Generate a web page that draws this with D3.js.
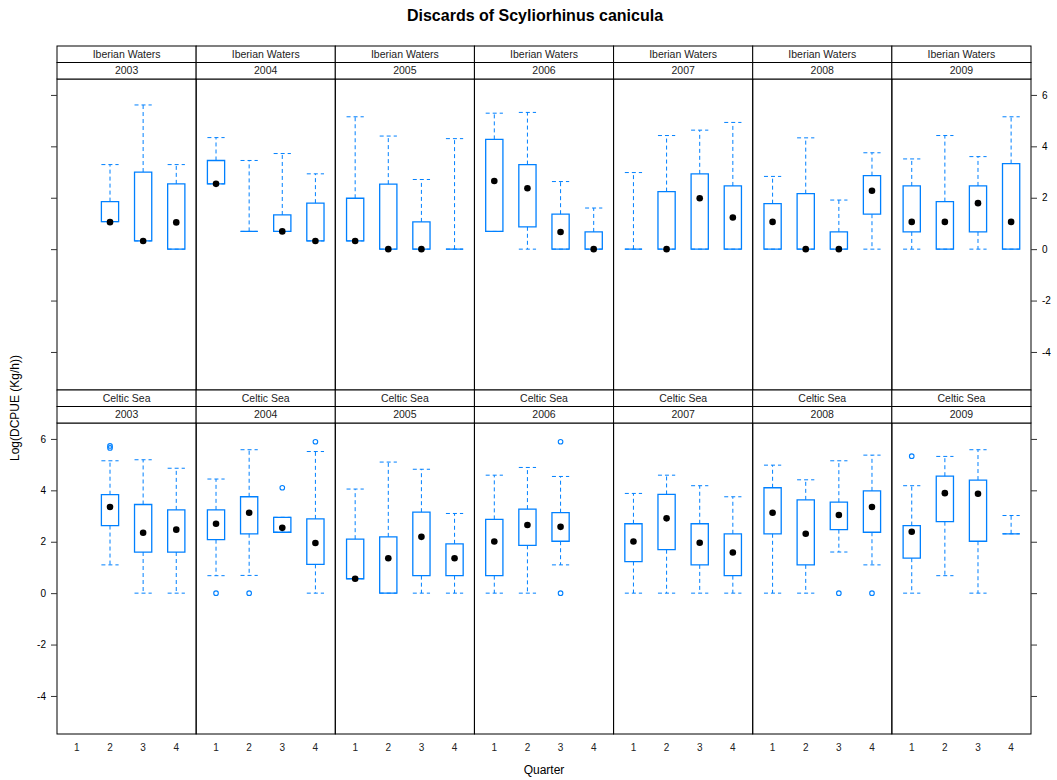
<!DOCTYPE html>
<html>
<head>
<meta charset="utf-8">
<script src="https://cdn.jsdelivr.net/npm/d3@7"></script>
<style>
  body { margin: 0; background: #fff; }
  text { font-family: "Liberation Sans", Arial, sans-serif; fill: #000; }
</style>
</head>
<body>
<svg id="chart"></svg>
<script>
// categories
const regions = ["Iberian Waters", "Celtic Sea"];
const years = ["2003", "2004", "2005", "2006", "2007", "2008", "2009"];
const quarters = [1, 2, 3, 4];
const yTicks = [-4, -2, 0, 2, 4, 6];

// box stats per year, per quarter: [lower whisker, Q1, median, Q3, upper whisker]
// median is null where the box collapses and no dot is drawn
const iberianStats = [
  [null, [1.07, 1.07, 1.05, 1.85, 3.29], [0.32, 0.32, 0.32, 3.0, 5.61], [0, 0, 1.04, 2.54, 3.29]],
  [[2.54, 2.54, 2.54, 3.45, 4.34], [0.69, 0.69, null, 0.69, 3.45], [0.69, 0.69, 0.69, 1.33, 3.72], [0.32, 0.32, 0.32, 1.79, 2.93]],
  [[0.32, 0.32, 0.32, 1.98, 5.15], [0, 0, 0, 2.53, 4.40], [0, 0, 0, 1.06, 2.71], [0, 0, null, 0, 4.30]],
  [[0.69, 0.69, 2.65, 4.27, 5.29], [0, 0.87, 2.37, 3.29, 5.32], [0, 0, 0.67, 1.36, 2.63], [0, 0, 0, 0.67, 1.60]],
  [[0, 0, null, 0, 2.98], [0, 0, 0, 2.24, 4.42], [0, 0, 1.98, 2.93, 4.63], [0, 0, 1.23, 2.46, 4.93]],
  [[0, 0, 1.06, 1.77, 2.83], [0, 0, 0, 2.16, 4.33], [0, 0, 0, 0.67, 1.91], [0, 1.36, 2.27, 2.86, 3.75]],
  [[0, 0.67, 1.06, 2.46, 3.51], [0, 0, 1.06, 1.85, 4.42], [0, 0.67, 1.79, 2.46, 3.60], [0, 0, 1.06, 3.33, 5.15]]
];
const celticStats = [
  [null, [1.10, 2.63, 3.35, 3.83, 5.15], [0, 1.60, 2.35, 3.45, 5.19], [0, 1.60, 2.47, 3.24, 4.86]],
  [[0.68, 2.08, 2.70, 3.24, 4.44], [0.69, 2.31, 3.13, 3.75, 5.58], [2.37, 2.37, 2.54, 2.95, 2.95], [0, 1.12, 1.95, 2.89, 5.51]],
  [[0.56, 0.56, 0.56, 2.10, 4.05], [0, 0, 1.36, 2.19, 5.10], [0, 0.68, 2.19, 3.15, 4.82], [0, 0.68, 1.36, 1.92, 3.10]],
  [[0, 0.68, 2.01, 2.87, 4.59], [0, 1.86, 2.65, 3.27, 4.89], [1.10, 2.02, 2.58, 3.13, 4.54], null],
  [[0, 1.23, 2.01, 2.70, 3.88], [0, 1.69, 2.91, 3.84, 4.59], [0, 1.10, 1.96, 2.70, 4.18], [0, 0.68, 1.58, 2.31, 3.75]],
  [[0, 2.31, 3.13, 4.10, 4.98], [0, 1.10, 2.31, 3.63, 4.41], [1.60, 2.47, 3.04, 3.54, 5.15], [1.10, 2.37, 3.35, 3.98, 5.37]],
  [[0, 1.36, 2.39, 2.63, 4.18], [0.68, 2.78, 3.89, 4.55, 5.32], [0, 2.02, 3.87, 4.40, 5.58], [2.31, 2.31, null, 2.31, 3.02]]
];
// outliers per year, per quarter
const iberianOutliers = years.map(() => [[], [], [], []]);
const celticOutliers = [
  [[], [5.65, 5.73], [], []],
  [[0], [0], [4.10], [5.89]],
  [[], [], [], []],
  [[], [], [0, 5.89], []],
  [[], [], [], []],
  [[], [], [0], [0]],
  [[5.33], [], [], []]
];

const width = 1057, height = 780;
const blue = "#0080ff";
const svg = d3.select("#chart").attr("width", width).attr("height", height);

const plotLeft = 57, plotRight = 1031, plotTop = 46;
const stripH = 16.5, panelH = 311;
const colW = (plotRight - plotLeft) / years.length;

const x = d3.scaleLinear().domain([0.4, 4.6]).range([0, colW]);
const y = d3.scaleLinear().domain([-5.48, 6.62]).range([panelH, 0]);

// title
svg.append("text").attr("x", 535).attr("y", 21).attr("text-anchor", "middle")
  .style("font-size", "16px").style("font-weight", "bold")
  .text("Discards of Scyliorhinus canicula");

// axis titles
svg.append("text").attr("x", 544).attr("y", 774).attr("text-anchor", "middle")
  .style("font-size", "12px").text("Quarter");
svg.append("text").attr("transform", "translate(19,408) rotate(-90)")
  .attr("text-anchor", "middle").style("font-size", "12px").text("Log(DCPUE (Kg/h))");

const allStats = [iberianStats, celticStats];
const allOutliers = [iberianOutliers, celticOutliers];

regions.forEach((region, r) => {
  const rowTop = plotTop + r * (2 * stripH + panelH);
  const panelTop = rowTop + 2 * stripH;

  years.forEach((year, c) => {
    const g = svg.append("g").attr("transform", `translate(${plotLeft + c * colW},${panelTop})`);

    // strips
    [region, year].forEach((label, s) => {
      const sy = rowTop + s * stripH;
      svg.append("rect").attr("x", plotLeft + c * colW).attr("y", sy)
        .attr("width", colW).attr("height", stripH)
        .attr("fill", "#fff").attr("stroke", "#000").attr("stroke-width", 1);
      svg.append("text").attr("x", plotLeft + c * colW + colW / 2).attr("y", sy + stripH / 2 + 3.5)
        .attr("text-anchor", "middle").style("font-size", "10.5px").style("fill", "#222").text(label);
    });

    const stats = allStats[r][c];
    const outs = allOutliers[r][c];
    const bw = x(1.26) - x(1);

    quarters.forEach((q, i) => {
      const s = stats[i];
      if (s) {
        const [lo, q1, med, q3, hi] = s;
        const cx = x(q);
        // whiskers (dashed)
        const dash = "4,3";
        g.append("line").attr("x1", cx).attr("x2", cx).attr("y1", y(q3)).attr("y2", y(hi))
          .attr("stroke", blue).attr("stroke-dasharray", dash);
        g.append("line").attr("x1", cx).attr("x2", cx).attr("y1", y(q1)).attr("y2", y(lo))
          .attr("stroke", blue).attr("stroke-dasharray", dash);
        g.append("line").attr("x1", cx - bw).attr("x2", cx + bw).attr("y1", y(hi)).attr("y2", y(hi))
          .attr("stroke", blue).attr("stroke-dasharray", dash);
        g.append("line").attr("x1", cx - bw).attr("x2", cx + bw).attr("y1", y(lo)).attr("y2", y(lo))
          .attr("stroke", blue).attr("stroke-dasharray", dash);
        // box (drawn as a path so a collapsed box still shows a solid line)
        const p = d3.path();
        p.moveTo(cx - bw, y(q3));
        p.lineTo(cx + bw, y(q3));
        p.lineTo(cx + bw, y(q1));
        p.lineTo(cx - bw, y(q1));
        p.closePath();
        g.append("path").attr("d", p.toString())
          .attr("fill", "none").attr("stroke", blue).attr("stroke-width", 1.3);
        if (med !== null) {
          g.append("circle").attr("cx", cx).attr("cy", y(med)).attr("r", 3.3).attr("fill", "#000");
        }
      }
      outs[i].forEach(v => {
        g.append("circle").attr("cx", x(q)).attr("cy", y(v)).attr("r", 2.3)
          .attr("fill", "none").attr("stroke", blue).attr("stroke-width", 1.1);
      });
    });

    // panel frame
    g.append("rect").attr("width", colW).attr("height", panelH)
      .attr("fill", "none").attr("stroke", "#000").attr("stroke-width", 1);

    // x tick labels on bottom row
    if (r === 1) {
      quarters.forEach(q => {
        g.append("text").attr("x", x(q)).attr("y", panelH + 17).attr("text-anchor", "middle")
          .style("font-size", "10px").style("fill", "#222").text(q);
      });
    }
  });

  // left axis (labels on bottom row), right axis (labels on top row)
  const leftAxis = d3.axisLeft(y).tickValues(yTicks).tickSize(6).tickPadding(5)
    .tickFormat(r === 1 ? d => d : () => "");
  const rightAxis = d3.axisRight(y).tickValues(yTicks).tickSize(6).tickPadding(5)
    .tickFormat(r === 0 ? d => d : () => "");
  [svg.append("g").attr("transform", `translate(${plotLeft},${panelTop})`).call(leftAxis),
   svg.append("g").attr("transform", `translate(${plotRight},${panelTop})`).call(rightAxis)]
    .forEach(a => {
      a.select(".domain").remove();
      a.selectAll("line").attr("stroke", "#333");
      a.selectAll("text").style("font-size", "10px").style("font-family", "Liberation Sans, Arial, sans-serif").attr("fill", "#222");
    });
});
</script>
</body>
</html>
